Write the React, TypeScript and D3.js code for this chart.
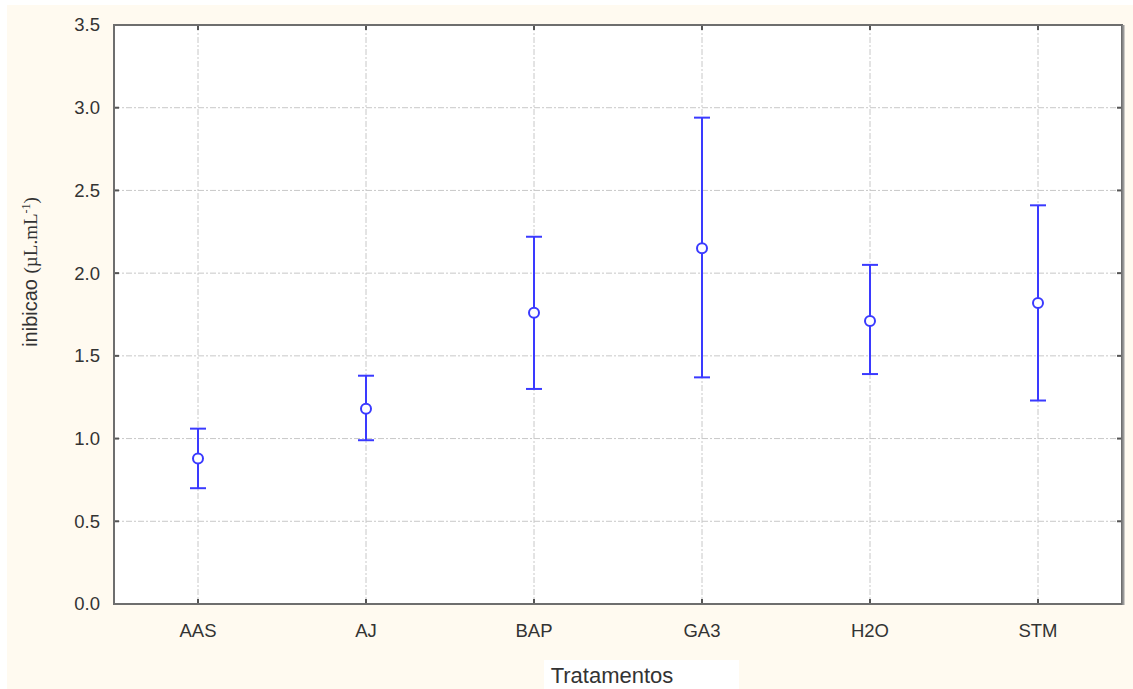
import * as d3 from "d3";

const categories = ["AAS", "AJ", "BAP", "GA3", "H2O", "STM"];
const means = [0.88, 1.18, 1.76, 2.15, 1.71, 1.82];
const upper = [1.06, 1.38, 2.22, 2.94, 2.05, 2.41];
const lower = [0.7, 0.99, 1.3, 1.37, 1.39, 1.23];
const yTicks = [0, 0.5, 1.0, 1.5, 2.0, 2.5, 3.0, 3.5];

const width = 1133;
const height = 689;
const marginLeft = 114;
const marginRight = 11;
const marginTop = 25;
const marginBottom = 85;

const blue = "#3a3aff";

export default function App() {
  const x = d3
    .scaleBand()
    .domain(categories)
    .range([marginLeft, width - marginRight]);

  const y = d3
    .scaleLinear()
    .domain([0, 3.5])
    .range([height - marginBottom, marginTop]);

  const cx = (c: string) => (x(c) ?? 0) + x.bandwidth() / 2;
  const plotBottom = height - marginBottom;
  const font = "'Liberation Sans', Arial, sans-serif";

  return (
    <svg
      width={width}
      height={height}
      style={{ position: "absolute", left: 0, top: 0 }}
    >
      <rect x={0} y={0} width={width} height={height} fill="#ffffff" />
      <rect x={7} y={5} width={width - 7} height={height - 5} fill="#fffaf0" />
      {/* plot area */}
      <rect
        x={marginLeft}
        y={marginTop}
        width={width - marginLeft - marginRight}
        height={plotBottom - marginTop}
        fill="#ffffff"
      />
      {/* grid */}
      <g stroke="#c8c8c8" strokeWidth={1} strokeDasharray="6,2,2,2">
        {yTicks.slice(1, -1).map((t) => (
          <line key={t} x1={marginLeft} x2={width - marginRight} y1={y(t)} y2={y(t)} />
        ))}
        {categories.map((c) => (
          <line key={c} x1={cx(c)} x2={cx(c)} y1={marginTop} y2={plotBottom} />
        ))}
      </g>
      {/* ticks */}
      <g stroke="#555" strokeWidth={2}>
        {yTicks.map((t) => (
          <line key={t} x1={marginLeft} x2={marginLeft + 5} y1={y(t)} y2={y(t)} />
        ))}
        {yTicks.map((t) => (
          <line key={"r" + t} x1={width - marginRight - 5} x2={width - marginRight} y1={y(t)} y2={y(t)} />
        ))}
        {categories.map((c) => (
          <line key={c} x1={cx(c)} x2={cx(c)} y1={plotBottom} y2={plotBottom - 5} />
        ))}
        {categories.map((c) => (
          <line key={"t" + c} x1={cx(c)} x2={cx(c)} y1={marginTop} y2={marginTop + 5} />
        ))}
      </g>
      {/* frame */}
      <rect
        x={marginLeft}
        y={marginTop}
        width={width - marginLeft - marginRight}
        height={plotBottom - marginTop}
        fill="none"
        stroke="#6e6e6e"
        strokeWidth={2}
      />
      <line
        x1={width - marginRight + 1.5}
        x2={width - marginRight + 1.5}
        y1={marginTop}
        y2={plotBottom + 1}
        stroke="#999"
        strokeWidth={2}
      />
      {/* y tick labels */}
      <g fontFamily={font} fontSize={18.5} fill="#333" textAnchor="end">
        {yTicks.map((t) => (
          <text key={t} x={marginLeft - 14} y={y(t)} dy="0.35em">
            {t.toFixed(1)}
          </text>
        ))}
      </g>
      {/* x tick labels */}
      <g fontFamily={font} fontSize={18.5} fill="#333" textAnchor="middle">
        {categories.map((c) => (
          <text key={c} x={cx(c)} y={plotBottom + 33}>
            {c}
          </text>
        ))}
      </g>
      {/* error bars */}
      <g stroke={blue} strokeWidth={2} fill="none">
        {categories.map((c, i) => (
          <g key={c}>
            <line x1={cx(c)} x2={cx(c)} y1={y(upper[i])} y2={y(lower[i])} />
            <line x1={cx(c) - 8} x2={cx(c) + 8} y1={y(upper[i])} y2={y(upper[i])} />
            <line x1={cx(c) - 8} x2={cx(c) + 8} y1={y(lower[i])} y2={y(lower[i])} />
            <circle cx={cx(c)} cy={y(means[i])} r={5} fill="#ffffff" />
          </g>
        ))}
      </g>
      {/* axis titles */}
      <rect x={544} y={660} width={195} height={29} fill="#ffffff" />
      <text
        x={612}
        y={683}
        textAnchor="middle"
        fontFamily={font}
        fontSize={22}
        fill="#333"
      >
        Tratamentos
      </text>
      <text
        transform={`translate(37,${272}) rotate(-90)`}
        textAnchor="middle"
        fontFamily={font}
        fontSize={20}
        fill="#333"
      >
        inibicao{" "}
        <tspan fontFamily="'Liberation Serif', 'Times New Roman', serif" fontSize={19}>
          (µL.mL
          <tspan dy={-7} fontSize={12}>-1</tspan>
          <tspan dy={7}>)</tspan>
        </tspan>
      </text>
    </svg>
  );
}
